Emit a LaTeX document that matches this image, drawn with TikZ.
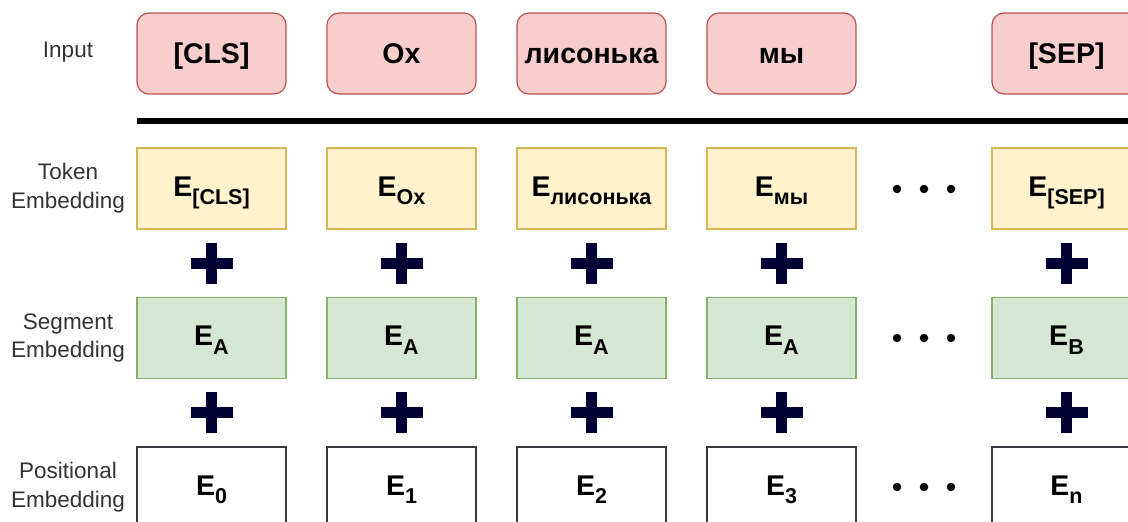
\documentclass[tikz,border=0pt]{standalone}
\usepackage{fontspec}
\setmainfont{Liberation Sans}
\definecolor{pinkfill}{HTML}{F8CECC}
\definecolor{pinkline}{HTML}{B85450}
\definecolor{yelfill}{HTML}{FFF2CC}
\definecolor{yelline}{HTML}{D6B656}
\definecolor{grnfill}{HTML}{D5E8D4}
\definecolor{grnline}{HTML}{82B366}
\definecolor{posline}{HTML}{36393D}
\definecolor{labelgray}{HTML}{333333}
\definecolor{plusc}{HTML}{000033}
\newcommand\Esub[1]{E\raisebox{-8.5pt}{\fontsize{21.5}{21.5}\selectfont #1}}
\begin{document}
\begin{tikzpicture}[x=1pt,y=-1pt,
  box/.style={draw, line width=1.2pt, minimum width=149pt, minimum height=81pt, inner sep=0pt, font=\fontsize{28.5}{28.5}\selectfont\bfseries},
  inbox/.style={box, rounded corners=12pt, fill=pinkfill, draw=pinkline, text height=20.4pt, text depth=0pt},
  ebox/.style={box, text height=20.4pt, text depth=5pt},
  tokbox/.style={ebox, fill=yelfill, draw=yelline},
  segbox/.style={ebox, fill=grnfill, draw=grnline},
  posbox/.style={ebox, fill=white, draw=posline},
  rowlabel/.style={align=center, font=\fontsize{22.5}{28.5}\selectfont, text=labelgray},
  dotmark/.style={circle, fill=black, inner sep=0pt, minimum size=8.5pt},
  plusbar/.style={draw=plusc, line width=11pt},
]
\clip (0,0) rectangle (1128,522);
% row labels
\node[rowlabel] (lin) at (68,52) {Input};
\node[rowlabel] (ltok) at (68,188) {Token\\Embedding};
\node[rowlabel] (lseg) at (68,338) {Segment\\Embedding};
\node[rowlabel] (lpos) at (68,487) {Positional\\Embedding};
% input row
\node[inbox] (in1) at (211.5,53.5) {[CLS]};
\node[inbox] (in2) at (401.5,53.5) {Ох};
\node[inbox] (in3) at (591.5,53.5) {лисонька};
\node[inbox] (in4) at (781.5,53.5) {мы};
\node[inbox] (in5) at (1066.5,53.5) {[SEP]};
% separator line
\coordinate (lineL) at (136.7,121);
\coordinate (lineR) at (1140,121);
\draw[line width=6.5pt] (lineL) -- (lineR);
% token row
\node[tokbox] (t1) at (211.5,188.5) {\Esub{[CLS]}};
\node[tokbox] (t2) at (401.5,188.5) {\Esub{Ох}};
\node[tokbox] (t3) at (591.5,188.5) {\Esub{лисонька}};
\node[tokbox] (t4) at (781.5,188.5) {\Esub{мы}};
\node[tokbox] (t5) at (1066.5,188.5) {\Esub{[SEP]}};
% segment row
\node[segbox] (s1) at (211.5,338) {\Esub{A}};
\node[segbox] (s2) at (401.5,338) {\Esub{A}};
\node[segbox] (s3) at (591.5,338) {\Esub{A}};
\node[segbox] (s4) at (781.5,338) {\Esub{A}};
\node[segbox] (s5) at (1066.5,338) {\Esub{B}};
% positional row
\node[posbox] (p1) at (211.5,487.5) {\Esub{0}};
\node[posbox] (p2) at (401.5,487.5) {\Esub{1}};
\node[posbox] (p3) at (591.5,487.5) {\Esub{2}};
\node[posbox] (p4) at (781.5,487.5) {\Esub{3}};
\node[posbox] (p5) at (1066.5,487.5) {\Esub{n}};
% dots
\foreach \y/\r in {189/a,338/b,487/c}{
  \node[dotmark] (dot\r1) at (897,\y) {};
  \node[dotmark] (dot\r2) at (924,\y) {};
  \node[dotmark] (dot\r3) at (951,\y) {};
}
% plus signs
\foreach \x in {211.5,401.5,591.5,781.5,1066.5}{
  \foreach \y in {263,412.5}{
    \draw[plusbar] (\x-21,\y) -- (\x+21,\y);
    \draw[plusbar] (\x,\y-20.5) -- (\x,\y+20.5);
  }
}
\end{tikzpicture}
\end{document}
